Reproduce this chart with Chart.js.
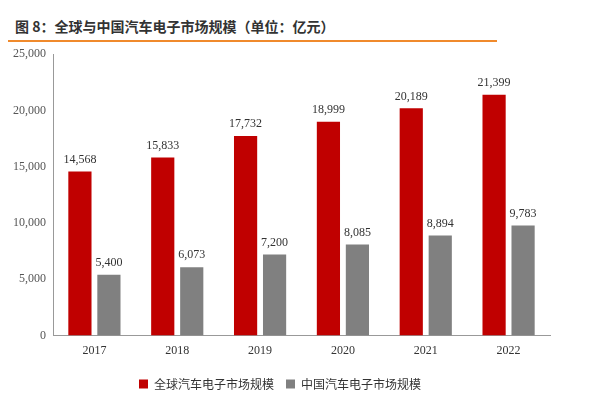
<!DOCTYPE html>
<html><head><meta charset="utf-8">
<script src="https://cdn.jsdelivr.net/npm/chart.js@4"></script>
<style>
body{margin:0;width:600px;height:400px;background:#fff;position:relative;overflow:hidden}
#t{position:absolute;left:15px;top:16px;font:bold 14px "Noto Sans CJK SC";color:#333}
#l{position:absolute;left:8px;top:40px;width:489px;height:2px;background:#F08a2c}
#w{position:absolute;left:0;top:44px;width:600px;height:356px}
</style></head><body>
<div id="t">图 8：全球与中国汽车电子市场规模（单位：亿元）</div><div id="l"></div>
<div id="w"><canvas id="c"></canvas></div>
<script>
const years=['2017','2018','2019','2020','2021','2022'];
const globalVals=[14568,15833,17732,18999,20189,21399];
const chinaVals=[5400,6073,7200,8085,8894,9783];
const yTicks=[0,5000,10000,15000,20000,25000];
const labelsPlugin={id:'lbl',afterDatasetsDraw(ch){const x=ch.ctx;x.save();x.font='12px "Liberation Serif"';x.fillStyle='#333';x.textAlign='center';x.textBaseline='bottom';
ch.data.datasets.forEach((d,i)=>{ch.getDatasetMeta(i).data.forEach((b,j)=>{x.fillText(d.data[j].toLocaleString('en-US'),b.x,b.y-6);});});x.restore();}};
new Chart(document.getElementById('c'),{type:'bar',
data:{labels:years,datasets:[
{label:'全球汽车电子市场规模',data:globalVals,backgroundColor:'#C00000'},
{label:'中国汽车电子市场规模',data:chinaVals,backgroundColor:'#808080'}]},
options:{responsive:true,maintainAspectRatio:false,animation:false,
layout:{padding:{left:10,right:50,top:2,bottom:0}},
datasets:{bar:{categoryPercentage:0.7,barPercentage:0.8}},
plugins:{legend:{position:'bottom',labels:{boxWidth:9,boxHeight:9,color:'#333',font:{family:'Noto Sans CJK SC',size:12},padding:12}},tooltip:{enabled:false}},
scales:{
x:{grid:{display:false,drawTicks:false},border:{color:'#999'},ticks:{color:'#333',padding:8,font:{family:'Liberation Serif',size:12}}},
y:{min:0,max:25000,afterBuildTicks:a=>{a.ticks=yTicks.map(v=>({value:v}));},grid:{display:false,drawTicks:true,tickLength:4},border:{color:'#999'},
ticks:{color:'#555',font:{family:'Liberation Serif',size:12},callback:v=>v.toLocaleString('en-US')}}}},
plugins:[labelsPlugin]});
</script></body></html>
